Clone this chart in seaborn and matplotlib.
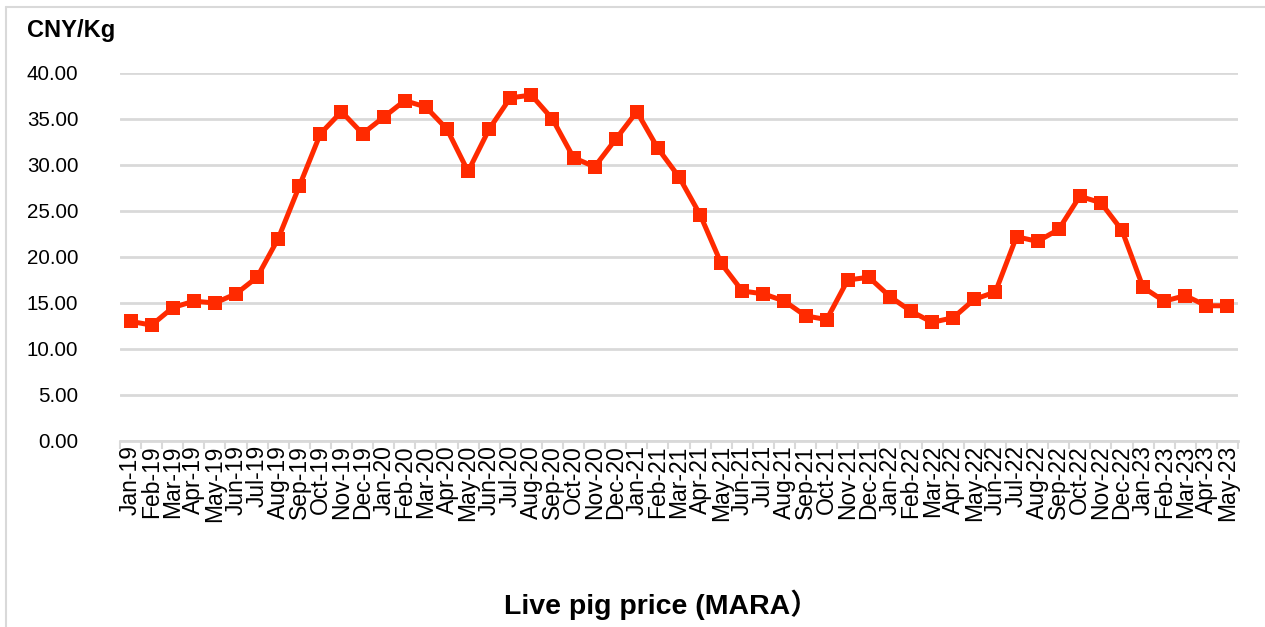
import numpy as np
import pandas as pd
import matplotlib
matplotlib.use("Agg")
import matplotlib.pyplot as plt
import seaborn as sns
from matplotlib.lines import Line2D

months = ["Jan-19","Feb-19","Mar-19","Apr-19","May-19","Jun-19","Jul-19","Aug-19","Sep-19","Oct-19","Nov-19","Dec-19",
          "Jan-20","Feb-20","Mar-20","Apr-20","May-20","Jun-20","Jul-20","Aug-20","Sep-20","Oct-20","Nov-20","Dec-20",
          "Jan-21","Feb-21","Mar-21","Apr-21","May-21","Jun-21","Jul-21","Aug-21","Sep-21","Oct-21","Nov-21","Dec-21",
          "Jan-22","Feb-22","Mar-22","Apr-22","May-22","Jun-22","Jul-22","Aug-22","Sep-22","Oct-22","Nov-22","Dec-22",
          "Jan-23","Feb-23","Mar-23","Apr-23","May-23"]
prices = [13.0, 12.6, 14.5, 15.2, 15.0, 16.0, 17.8, 22.0, 27.7, 33.4, 35.8, 33.4,
          35.2, 37.0, 36.3, 33.9, 29.3, 33.9, 37.3, 37.6, 35.0, 30.8, 29.8, 32.8,
          35.8, 31.8, 28.7, 24.6, 19.3, 16.3, 16.0, 15.2, 13.6, 13.2, 17.5, 17.8,
          15.7, 14.1, 12.9, 13.4, 15.4, 16.2, 22.2, 21.7, 23.0, 26.6, 25.9, 22.9,
          16.7, 15.2, 15.8, 14.7, 14.7]
yticks = [0, 5, 10, 15, 20, 25, 30, 35, 40]
unit_label = "CNY/Kg"
title = "Live pig price (MARA）"

sns.set_theme(style="white")
plt.rcParams['font.family'] = ['Liberation Sans', 'Noto Sans CJK SC', 'DejaVu Sans']
plt.rcParams['text.color'] = 'black'
plt.rcParams['xtick.color'] = 'black'
plt.rcParams['ytick.color'] = 'black'

df = pd.DataFrame({"idx": np.arange(len(months)), "price": prices})

fig = plt.figure(figsize=(12.65, 6.27), dpi=100)
ax = fig.add_axes([120/1265, 1-441/627, (1238-120)/1265, (441-73)/627])

sns.lineplot(data=df, x="idx", y="price", ax=ax, color="#ff2a00", linewidth=3.6,
             marker="s", markersize=10, markeredgewidth=0, markerfacecolor="#ff2a00")

ax.set_xlim(-0.5, len(months) - 0.5)
ax.set_ylim(0, 40)
ax.set_yticks(yticks)
ax.set_yticklabels([f"{v:.2f}" for v in yticks], fontsize=14.8, color="black")
ax.set_xticks(np.arange(len(months)))
ax.set_xticklabels(months, rotation=90, fontsize=16.5, color="black")
ax.set_xticks(np.arange(len(months) + 1) - 0.5, minor=True)
ax.tick_params(axis="x", which="major", length=0, pad=3)
ax.tick_params(axis="x", which="minor", length=6, width=1.5, color="#d9d9d9", direction="out", bottom=True)
ax.tick_params(axis="y", length=0, pad=30)
ax.set_xlabel("")
ax.set_ylabel("")
ax.grid(axis="y", color="#d9d9d9", linewidth=2)
ax.set_axisbelow(True)
for s in ["top", "right", "left"]:
    ax.spines[s].set_visible(False)
ax.spines["bottom"].set_color("#d9d9d9")
ax.spines["bottom"].set_linewidth(2)

fig.text(27/1265, 1-30/627, unit_label, fontsize=17, fontweight="bold", ha="left", va="center")
fig.text(661/1265, 1-605/627, title, fontsize=20.5, fontweight="bold", ha="center", va="center")

# light frame
fig.add_artist(Line2D([6/1265, 6/1265], [0, 1-7/627], transform=fig.transFigure, color="#d9d9d9", linewidth=1.5))
fig.add_artist(Line2D([6/1265, 1], [1-7/627, 1-7/627], transform=fig.transFigure, color="#d9d9d9", linewidth=1.5))

fig.savefig("out.png", dpi=100)
